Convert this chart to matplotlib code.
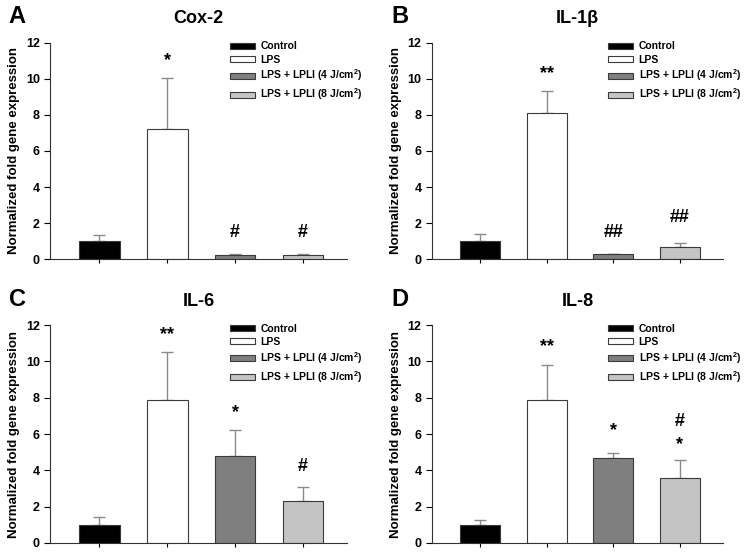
import matplotlib
matplotlib.use("Agg")
from matplotlib import pyplot as plt

plt.rcParams['font.family'] = ['Liberation Sans', 'DejaVu Sans']
plt.rcParams['font.weight'] = 'bold'
plt.rcParams['mathtext.fontset'] = 'custom'
plt.rcParams['mathtext.bf'] = 'Liberation Sans:bold'
plt.rcParams['mathtext.rm'] = 'Liberation Sans:bold'

GROUPS = ["Control", "LPS", "LPS + LPLI (4 J/cm$^{2}$)", "LPS + LPLI (8 J/cm$^{2}$)"]
COLORS = ["#000000", "#ffffff", "#7f7f7f", "#c4c4c4"]

PANELS = ["A", "B", "C", "D"]
TITLES = ["Cox-2", "IL-1β", "IL-6", "IL-8"]

cox2_mean = [1.0, 7.2, 0.25, 0.22]
cox2_err = [0.35, 2.85, 0.05, 0.05]
il1b_mean = [1.0, 8.1, 0.28, 0.68]
il1b_err = [0.38, 1.2, 0.03, 0.22]
il6_mean = [1.0, 7.9, 4.8, 2.3]
il6_err = [0.45, 2.6, 1.4, 0.8]
il8_mean = [1.0, 7.85, 4.68, 3.6]
il8_err = [0.28, 1.93, 0.27, 0.98]

# significance marks: (bar index, y value, text)
cox2_marks = [(1, 11.0, "*"), (2, 1.5, "#"), (3, 1.5, "#")]
il1b_marks = [(1, 10.3, "**"), (2, 1.5, "##"), (3, 2.3, "##")]
il6_marks = [(1, 11.5, "**"), (2, 7.2, "*"), (3, 4.2, "#")]
il8_marks = [(1, 10.8, "**"), (2, 6.2, "*"), (3, 6.7, "#"), (3, 5.4, "*")]

means = [cox2_mean, il1b_mean, il6_mean, il8_mean]
errs = [cox2_err, il1b_err, il6_err, il8_err]
marks = [cox2_marks, il1b_marks, il6_marks, il8_marks]

# axes rectangles in figure fractions
boxes = [
    [0.067, 0.533, 0.396, 0.39],
    [0.576, 0.533, 0.388, 0.39],
    [0.067, 0.022, 0.396, 0.392],
    [0.576, 0.022, 0.388, 0.392],
]

fig = plt.figure(figsize=(7.5, 5.55), dpi=100)

for i in range(4):
    ax = fig.add_axes(boxes[i])
    x = list(range(4))
    bars = ax.bar(x, means[i], width=0.6, color=COLORS, edgecolor="#3a3a3a",
                  linewidth=0.8, zorder=2)
    ax.errorbar(x, means[i], yerr=[[0] * 4, errs[i]], fmt="none",
                ecolor="#8a8a8a", elinewidth=1.0, capsize=4, capthick=1.0,
                zorder=1)
    for idx, yv, txt in marks[i]:
        ax.text(idx, yv, txt, ha="center", va="center", fontsize=13,
                fontweight="bold")
    ax.set_xlim(-0.72, 3.65)
    ax.set_ylim(0, 12)
    ax.set_yticks(range(0, 13, 2))
    ax.set_xticks(x)
    ax.set_xticklabels([])
    ax.tick_params(axis="y", direction="out", length=4, labelsize=9, width=0.8)
    ax.tick_params(axis="x", direction="out", length=3, width=0.8)
    for lab in ax.get_yticklabels():
        lab.set_fontweight("bold")
    for side in ["left", "bottom"]:
        ax.spines[side].set_color("#333333")
    ax.spines["top"].set_visible(False)
    ax.spines["right"].set_visible(False)
    ax.set_ylabel("Normalized fold gene expression", fontsize=9.5,
                  fontweight="bold")
    ax.set_title(TITLES[i], fontsize=13, fontweight="bold", pad=14)
    ax.text(-0.14, 1.12, PANELS[i], transform=ax.transAxes, fontsize=17,
            fontweight="bold", va="center")
    ax.legend(bars, GROUPS, loc="upper left", bbox_to_anchor=(0.585, 1.035),
              frameon=False, handlelength=2.4, handleheight=0.55,
              labelspacing=0.3, handletextpad=0.5, borderaxespad=0.2,
              prop={"weight": "bold", "size": 7.5})

fig.savefig("out.png", dpi=100)
